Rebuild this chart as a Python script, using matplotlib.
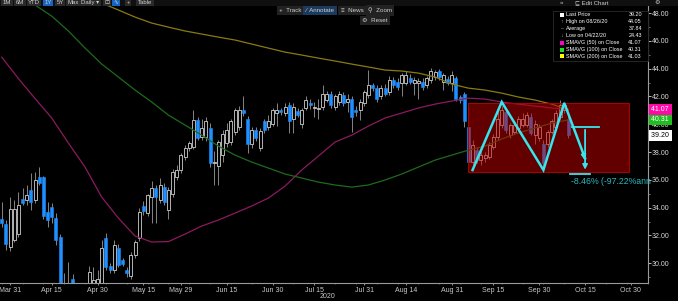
import numpy as np
import pandas as pd
import matplotlib
matplotlib.use('Agg')
import matplotlib.pyplot as plt
from matplotlib.patches import Rectangle
from matplotlib.transforms import blended_transform_factory

plt.rcParams['font.family'] = ['Liberation Sans', 'DejaVu Sans']

# ---------------------------------------------------------------
# data
# ---------------------------------------------------------------
HOLIDAYS = ['2020-04-10', '2020-05-25', '2020-07-03', '2020-09-07', '2020-11-26']
n_bars = 137
opens = [33.2, 32.8, 31.2, 31.7, 32.1, 34.6, 34.55, 35.3, 34.55, 36.2,
         36.2, 33.7, 34.05, 33.25, 31.9, 26.0, 27.8, 28.85, 28.0, 27.3,
         27.6, 28.3, 28.3, 28.2, 28.5, 31.8, 29.8, 29.5, 31.1, 30.2,
         29.5, 29.05, 30.6, 31.8, 34.1, 33.6, 34.8, 35.4, 34.55, 35.5,
         33.8, 35.0, 36.2, 36.7, 37.65, 38.3, 38.4, 40.3, 39.1, 39.1,
         39.7, 37.2, 37.0, 37.8, 38.65, 38.75, 39.45, 39.8, 41.0, 40.4,
         38.6, 39.6, 38.3, 40.2, 39.8, 40.05, 40.8, 41.0, 40.8, 41.4,
         40.4, 40.95, 40.05, 41.15, 41.5, 41.15, 41.1, 41.25, 41.75, 42.2,
         41.25, 41.6, 42.1, 41.6, 41.85, 41.05, 41.0, 41.5, 42.1, 42.8,
         42.6, 42.0, 42.6, 42.3, 43.2, 43.05, 42.95, 42.95, 43.3, 42.95,
         43.0, 43.05, 42.8, 43.2, 43.4, 43.8, 43.05, 43.25, 42.95, 43.3,
         41.95, 42.2, 39.8, 37.3, 38.15, 37.4, 37.55, 37.65, 38.4, 39.1,
         39.95, 40.9, 39.2, 39.45, 39.7, 39.95, 39.95, 40.55, 39.2, 39.0,
         38.6, 38.6, 39.45, 39.8, 40.5, 41.0, 40.4]
highs = [34.4, 33.1, 34.8, 34.55, 35.1, 35.4, 35.6, 36.5, 36.6, 36.95,
         36.3, 34.4, 34.3, 33.6, 32.1, 29.3, 30.1, 29.2, 28.5, 28.4,
         28.5, 29.8, 29.7, 29.5, 31.7, 32.2, 30.0, 31.7, 31.4, 30.4,
         29.7, 30.8, 31.7, 34.0, 34.5, 35.0, 35.9, 35.6, 36.1, 35.8,
         35.5, 36.8, 37.1, 37.9, 38.5, 38.8, 41.0, 40.5, 40.4, 40.5,
         40.1, 38.1, 38.9, 39.6, 40.1, 40.4, 41.2, 41.3, 42.0, 40.6,
         39.8, 39.8, 39.7, 40.4, 40.65, 41.2, 41.5, 41.2, 41.5, 41.6,
         41.5, 41.2, 41.2, 42.0, 41.8, 41.6, 41.85, 42.8, 42.4, 42.4,
         42.2, 42.4, 42.3, 42.2, 42.0, 41.3, 41.8, 42.5, 43.9, 43.0,
         42.8, 42.8, 42.9, 43.5, 43.4, 43.3, 43.7, 43.8, 43.6, 43.4,
         43.3, 43.3, 43.5, 44.05, 43.9, 43.95, 43.7, 43.5, 43.8, 43.5,
         42.1, 42.3, 40.0, 38.85, 38.4, 38.1, 38.0, 38.7, 39.3, 41.0,
         41.3, 41.2, 40.1, 40.2, 40.6, 40.8, 40.9, 40.8, 40.3, 40.0,
         38.9, 39.6, 40.4, 41.0, 41.75, 41.6, 40.6]
lows = [32.6, 30.95, 30.9, 31.5, 31.9, 34.2, 34.2, 33.8, 34.3, 35.6,
        33.2, 32.6, 32.9, 31.3, 26.5, 25.0, 27.3, 24.43, 26.9, 26.5,
        26.8, 27.9, 27.9, 27.8, 28.3, 29.5, 29.3, 29.3, 29.7, 29.8,
        29.0, 28.9, 30.4, 31.6, 33.5, 33.4, 32.9, 32.9, 34.3, 34.2,
        33.2, 34.8, 36.0, 36.5, 37.4, 38.1, 38.2, 38.9, 38.9, 38.8,
        36.9, 35.6, 35.6, 37.3, 38.4, 38.5, 39.2, 39.6, 40.6, 37.9,
        38.3, 38.8, 38.1, 39.4, 39.6, 39.9, 39.9, 40.7, 40.6, 39.35,
        39.35, 40.5, 39.7, 41.0, 41.1, 40.55, 40.4, 41.0, 41.6, 41.2,
        41.0, 41.4, 41.3, 40.9, 39.45, 40.6, 40.3, 41.3, 41.9, 42.4,
        41.6, 41.8, 42.0, 42.1, 42.6, 42.5, 42.0, 42.8, 42.9, 42.1,
        41.85, 42.5, 42.6, 43.0, 43.2, 43.2, 42.45, 42.8, 42.4, 41.7,
        41.5, 39.8, 37.0, 37.05, 37.2, 37.1, 37.3, 37.5, 38.2, 38.9,
        39.7, 39.4, 39.0, 39.3, 39.5, 39.8, 39.8, 39.2, 38.6, 38.8,
        36.8, 38.4, 39.3, 39.6, 40.3, 40.8, 39.0]
closes = [32.9, 31.4, 33.9, 33.9, 34.2, 34.35, 34.9, 34.4, 36.0, 35.75,
          33.4, 33.1, 33.3, 31.65, 27.0, 27.8, 28.4, 28.5, 27.2, 27.8,
          28.2, 29.4, 28.8, 28.9, 31.1, 29.7, 29.5, 31.3, 29.9, 29.95,
          29.3, 30.6, 31.55, 33.7, 33.75, 34.9, 35.45, 34.8, 35.6, 34.4,
          35.25, 36.6, 36.7, 37.8, 38.3, 38.65, 40.3, 39.0, 39.7, 40.2,
          37.2, 37.3, 38.75, 39.3, 39.6, 40.2, 41.0, 41.0, 40.8, 38.6,
          39.6, 39.0, 39.5, 39.6, 40.2, 41.0, 41.0, 40.9, 41.25, 40.2,
          41.25, 40.65, 41.0, 41.75, 41.35, 41.25, 41.2, 42.2, 42.2, 41.4,
          42.0, 42.2, 41.5, 41.85, 40.55, 40.9, 41.6, 42.35, 42.8, 42.6,
          41.85, 42.6, 42.2, 43.2, 42.8, 42.7, 43.55, 43.55, 43.05, 43.2,
          43.1, 42.7, 43.3, 43.8, 43.75, 43.4, 43.55, 42.95, 43.55, 41.85,
          41.75, 40.2, 37.3, 38.5, 37.4, 37.8, 37.8, 38.5, 39.1, 40.4,
          41.0, 39.6, 39.95, 39.95, 40.4, 40.4, 40.65, 39.35, 40.05, 39.8,
          37.2, 39.45, 40.2, 40.8, 41.4, 41.4, 39.2]

# moving averages read every 4th bar
ma_step = 4
sma50 = [44.83, 43.29, 41.85, 40.45, 38.65, 36.92, 34.76, 33.25, 31.96, 31.53,
         31.56, 32.10, 32.68, 33.11, 33.61, 34.12, 34.69, 35.55, 36.71, 37.71,
         38.72, 39.22, 39.87, 40.45, 40.81, 41.17, 41.45, 41.67, 41.88, 41.81,
         41.60, 41.45, 41.31, 41.17, 41.07]
sma100 = [50.16, 49.37, 48.58, 47.78, 46.71, 45.48, 44.33, 43.40, 42.46, 41.60,
          40.66, 39.94, 39.22, 38.43, 37.78, 37.28, 36.85, 36.42, 36.13, 35.84,
          35.63, 35.48, 35.63, 35.99, 36.42, 36.92, 37.42, 37.78, 38.14, 38.43,
          38.94, 39.37, 39.73, 40.09, 40.31]
sma200 = [51.74, 51.24, 50.73, 50.23, 49.73, 49.22, 48.72, 48.22, 47.71, 47.28,
          46.99, 46.71, 46.49, 46.27, 46.06, 45.77, 45.48, 45.19, 44.98, 44.76,
          44.55, 44.33, 44.12, 43.90, 43.83, 43.68, 43.40, 42.89, 42.60, 42.46,
          42.24, 41.96, 41.74, 41.45, 41.03]

date_labels = ['Mar 31', 'Apr 15', 'Apr 30', 'May 15', 'May 29', 'Jun 15', 'Jun 30',
               'Jul 15', 'Jul 31', 'Aug 14', 'Aug 31', 'Sep 15', 'Sep 30', 'Oct 15', 'Oct 30']

legend_rows = [('Last Price', '39.20', 'white'),
               ('High on 08/26/20', '44.05', None),
               ('Average', '37.84', None),
               ('Low on 04/22/20', '24.43', None),
               ('SMAVG (50)  on Close', '41.07', '#ff00cc'),
               ('SMAVG (100)  on Close', '40.31', '#22dd22'),
               ('SMAVG (200)  on Close', '41.03', '#ffff00')]

# annotation: rectangle range + W pattern + measured move
box_dates = ('2020-09-04', '2020-10-29')
box_prices = (36.58, 41.56)
w_dates = ['2020-09-08', '2020-09-17', '2020-10-01', '2020-10-08', '2020-10-15']
w_prices = [36.71, 41.60, 36.71, 41.53, 37.55]
move_date = '2020-10-15'
move_from, move_to = 39.80, 36.43
move_text = '-8.46% (-97.22%ann'

# ---------------------------------------------------------------
dates = pd.bdate_range('2020-03-27', '2020-11-13', freq='C', holidays=HOLIDAYS)
def pos(d):
    return dates.get_loc(pd.Timestamp(d))

BG = 'black'
BLUE = '#1e90ff'
W, H = 678, 301
fig = plt.figure(figsize=(W / 100, H / 100), dpi=100, facecolor=BG)
ax = fig.add_axes([0, 18 / H, 648 / W, 283 / H], facecolor=BG)

x = np.arange(n_bars)
o = np.array(opens); h = np.array(highs); l = np.array(lows); c = np.array(closes)
up = c >= o

ax.vlines(x, l, h, color='#9a9a9a', lw=0.6, zorder=2)
ax.bar(x[up], c[up] - o[up], bottom=o[up], width=0.7, color='black',
       edgecolor='#d0d0d0', linewidth=0.6, zorder=3)
ax.bar(x[~up], o[~up] - c[~up], bottom=c[~up], width=0.7, color=BLUE,
       edgecolor=BLUE, linewidth=0.4, zorder=3)

ma_x = np.arange(0, n_bars, ma_step)
ax.plot(ma_x, sma50, color='#8c1a60', lw=0.9, zorder=4)
ax.plot(ma_x, sma100, color='#1d6b1d', lw=0.9, zorder=4)
ax.plot(ma_x, sma200, color='#8a7a12', lw=0.9, zorder=4)

# red range box
bx0, bx1 = pos(box_dates[0]) - 0.1, pos(box_dates[1]) + 0.6
ax.add_patch(Rectangle((bx0, box_prices[0]), bx1 - bx0, box_prices[1] - box_prices[0],
                       facecolor='#c40000', alpha=0.5, edgecolor='none', zorder=5))
ax.add_patch(Rectangle((bx0, box_prices[0]), bx1 - bx0, box_prices[1] - box_prices[0],
                       facecolor='none', edgecolor='#b00000', lw=0.7, zorder=5))

# W pattern
cyan = '#35e6ee'
wx = [pos(d) for d in w_dates]
ax.plot(wx, w_prices, color=cyan, lw=1.8, zorder=6, solid_joinstyle='miter')
ax.annotate('', xy=(wx[-1], w_prices[-1] - 0.3), xytext=(wx[-1] - 0.5, w_prices[-1] + 0.5),
            arrowprops=dict(arrowstyle='-|>', color=cyan, lw=1.2, mutation_scale=7), zorder=6)

# measured move
mx = pos(move_date)
ax.plot([mx - 3.2, mx + 3.4], [move_from, move_from], color=cyan, lw=1.3, zorder=6)
ax.plot([mx - 3.6, mx + 1.2], [move_to, move_to], color=cyan, lw=1.3, zorder=6)
ax.annotate('', xy=(mx, move_to + 0.1), xytext=(mx, move_from),
            arrowprops=dict(arrowstyle='-|>', color=cyan, lw=1.3, mutation_scale=7), zorder=6)
ax.text(mx - 3.3, move_to - 0.2, move_text, color='#2ab8bf', fontsize=6.3,
        va='top', ha='left', zorder=7, clip_on=False)

# axes styling
ax.set_xlim(-0.41, 155.1)
ax.set_ylim(28.58, 48.94)
for s in ['top', 'left']:
    ax.spines[s].set_visible(False)
for s in ['right', 'bottom']:
    ax.spines[s].set_color('#9a9a9a')
    ax.spines[s].set_linewidth(0.8)

ax.yaxis.tick_right()
ax.set_yticks(np.arange(30, 49, 2))
ax.set_yticklabels(['%.2f' % v for v in np.arange(30, 49, 2)])
ax.set_yticks(np.arange(29, 49, 1), minor=True)
ax.tick_params(axis='y', which='major', colors='#d8d8d8', labelsize=5, length=2,
               width=0.6, pad=1, direction='out')
ax.tick_params(axis='y', which='minor', colors='#9a9a9a', length=1.2, width=0.5)

ax.set_xticks([pos(pd.Timestamp(lbl + ' 2020')) for lbl in date_labels])
ax.set_xticklabels(date_labels)
ax.set_xticks(np.arange(0, 156, 5), minor=True)
ax.tick_params(axis='x', which='major', colors='#c8c8c8', labelsize=5, length=1.5,
               width=0.5, pad=1.5)
ax.tick_params(axis='x', which='minor', colors='#8a8a8a', length=1, width=0.4)
fig.text(327 / W, 1 - 297 / H, '2020', color='#c8c8c8', fontsize=5, ha='center', va='center')

# last value tags on the price axis
tr = blended_transform_factory(ax.transAxes, ax.transData)
for val, fc, tc in [(41.07, '#ff0aa8', 'white'), (40.31, '#1fbf1f', 'white'), (39.20, 'white', 'black')]:
    ax.text(1.004, val, '%.2f ' % val, transform=tr, fontsize=5, color=tc, va='center', ha='left',
            bbox=dict(boxstyle='square,pad=0.25', fc=fc, ec='none'), zorder=8, clip_on=False)

# legend panel
def fx(px): return px / W
def fy(py): return 1 - py / H
fig.patches.append(Rectangle((fx(553), fy(61)), fx(95), 50 / H, transform=fig.transFigure,
                             facecolor='black', edgecolor='#2a2a2a', lw=0.6, zorder=9))
for i, (name, val, col) in enumerate(legend_rows):
    yy = 15 + i * 6.9
    if col is not None:
        fig.patches.append(Rectangle((fx(560), fy(yy + 2)), fx(4), 4 / H, transform=fig.transFigure,
                                     facecolor=col, edgecolor='none', zorder=10))
    else:
        fig.text(fx(562), fy(yy), {1: '↑', 2: '–', 3: '↓'}[i], color='#aaaaaa', fontsize=3.8,
                 ha='center', va='center', zorder=10)
    fig.text(fx(566), fy(yy), name.replace('  ', ' '), color='white', fontsize=3.9,
             ha='left', va='center', zorder=10)
    fig.text(fx(642), fy(yy), val, color='white', fontsize=3.9, ha='right', va='center', zorder=10)

# toolbar
fig.patches.append(Rectangle((0, fy(6)), 1, 6 / H, transform=fig.transFigure,
                             facecolor='#101010', edgecolor='none', zorder=9))
for lbl, px_, hl in [('1M', 7, False), ('6M', 20, False), ('YTD', 34, False), ('1Y', 48, True),
                     ('5Y', 60, False), ('Max', 73, False), ('Daily ▾', 90, False),
                     ('⊡', 107, False), ('∿', 116, True), ('+', 128, False), ('Table', 145, False)]:
    fig.text(fx(px_), fy(2.5), lbl, color='#d0d0d0', fontsize=4.3, ha='center', va='center', zorder=10,
             bbox=dict(boxstyle='square,pad=0.25', fc='#1565c0' if hl else '#2a2a2a', ec='none'))
fig.text(fx(562), fy(2.5), '«', color='#d0d0d0', fontsize=4.5, ha='center', va='center', zorder=10)
fig.text(fx(592), fy(2.5), '⊑ Edit Chart', color='#d0d0d0', fontsize=4.3, ha='center', va='center', zorder=10)
fig.text(fx(657), fy(2.5), '⚙', color='#d0d0d0', fontsize=4.5, ha='center', va='center', zorder=10)
for lbl, px_, py_, hl in [('+  Track', 290, 10.5, False), ('⁄  Annotate', 320, 10.5, True),
                          ('≡  News', 352, 10.5, False), ('⚲  Zoom', 380, 10.5, False),
                          ('⚙  Reset', 375, 20.5, False)]:
    fig.text(fx(px_), fy(py_), lbl, color='#cfcfcf', fontsize=4.5, ha='center', va='center', zorder=10,
             bbox=dict(boxstyle='square,pad=0.35', fc='#1b3a5c' if hl else '#222222', ec='none'))

fig.savefig('out.png', dpi=100, facecolor=BG)
